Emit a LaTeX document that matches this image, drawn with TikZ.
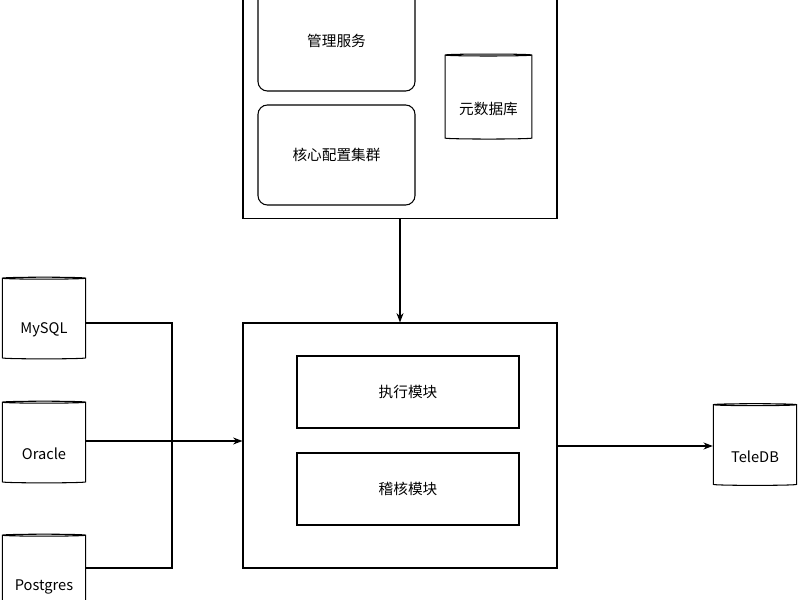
\documentclass[tikz,border=0pt]{standalone}
\usepackage{fontspec}
\setmainfont{Noto Sans CJK SC}
\usetikzlibrary{shapes.geometric,arrows.meta}
\begin{document}
\begin{tikzpicture}[
                x=0.03cm, y=-0.03cm,
                every node/.style={font=\fontsize{12.5}{14}\selectfont},
                box/.style={draw, line width=0.9pt, inner sep=0pt},
                part/.style={draw, line width=0.9pt, rounded corners=8pt, inner sep=0pt},
                db/.style={draw, line width=0.9pt, cylinder, shape border rotate=90,
                    aspect=0.25, minimum width=2.5cm, minimum height=2.45cm,
                    label={[yshift=-0.33cm]center:#1}},
                link/.style={line width=0.9pt},
                arrow/.style={link, -{Stealth[length=8pt]}},
            ]
            \useasboundingbox (0,0) rectangle (800,600);
            % management side
            \node[box, minimum width=9.42cm, minimum height=6.75cm] (meta) at (400,106) {};
            \node[part, minimum width=4.71cm, minimum height=3cm] (admin) at (336.5,41) {管理服务};
            \node[part, minimum width=4.71cm, minimum height=3cm] (core) at (336.5,155) {核心配置集群};
            \node[db=元数据库, minimum width=2.6cm, minimum height=2.55cm] (metadb) at (488.5,97.5) {};
            % execution side
            \node[box, minimum width=9.42cm, minimum height=7.35cm] (engine) at (400,445.5) {};
            \node[box, minimum width=6.66cm, minimum height=2.16cm] (exec) at (408,392) {执行模块};
            \node[box, minimum width=6.66cm, minimum height=2.16cm] (audit) at (408,489) {稽核模块};
            % sources and target
            \node[db=MySQL] (mysql) at (44,319) {};
            \node[db=Oracle] (oracle) at (44,443) {};
            \node[db=Postgres] (pg) at (44,576) {};
            \node[db=TeleDB] (teledb) at (755,445.5) {};
            \coordinate (join) at (172,441);
            \draw[arrow] (meta.south) -- (engine.north);
            \draw[link] (mysql.east |- 0,323) -| (join);
            \draw[link] (pg.east |- 0,568) -| (join);
            \draw[arrow] (oracle.east |- 0,441) -- (engine.west |- 0,441);
            \draw[arrow] (engine.east |- 0,446) -- (teledb.west |- 0,446);
\end{tikzpicture}
\end{document}
